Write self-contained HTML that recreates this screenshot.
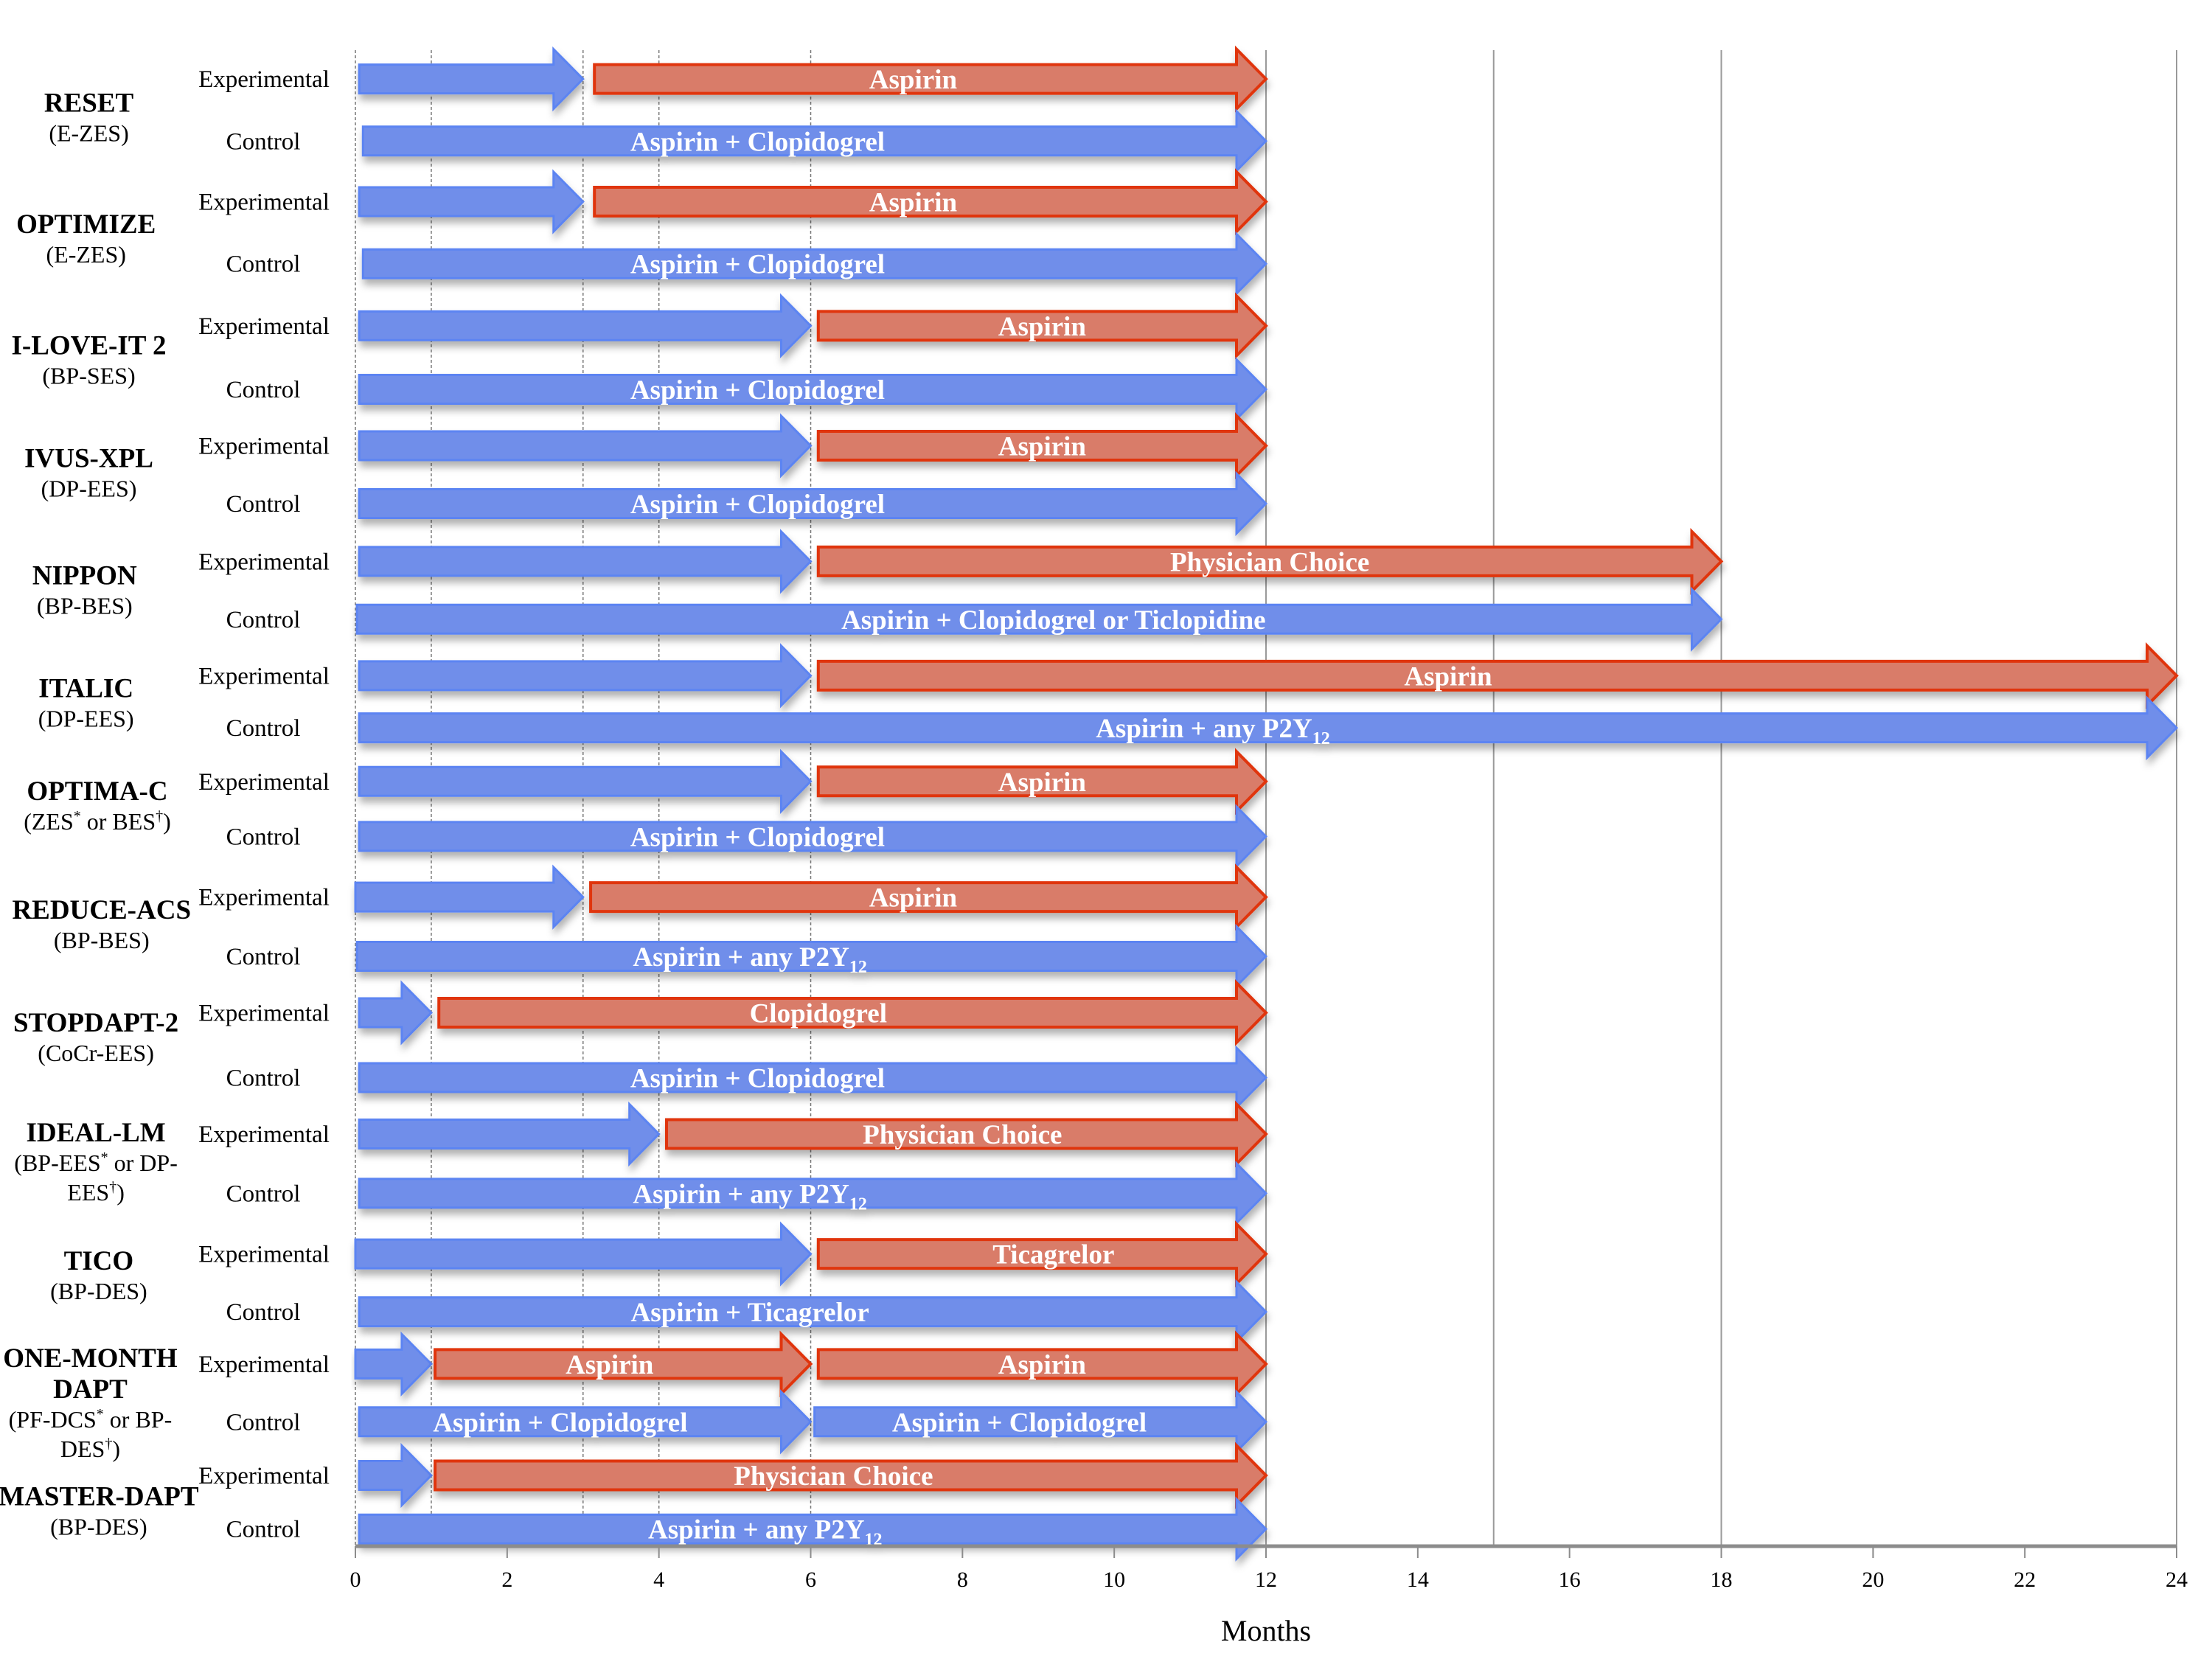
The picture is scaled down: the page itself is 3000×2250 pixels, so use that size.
<!DOCTYPE html>
<html><head><meta charset="utf-8">
<style>
html,body{margin:0;padding:0;background:#fff;}
svg{display:block;}
text{font-family:"Liberation Serif",serif;}
</style></head>
<body>
<svg id="chart" width="3000" height="2250" viewBox="0 0 3000 2250" xmlns="http://www.w3.org/2000/svg">
<defs>
<filter id="sh" x="-5%" y="-30%" width="110%" height="170%">
<feDropShadow dx="2" dy="8" stdDeviation="5" flood-color="#000" flood-opacity="0.3"/>
</filter>
</defs>
<g id="grid"></g>
<g id="labels"></g>
<g id="bars"></g>
<g id="axis"></g>
</svg>
<script>
const trials = ["RESET","OPTIMIZE","I-LOVE-IT 2","IVUS-XPL","NIPPON","ITALIC","OPTIMA-C","REDUCE-ACS","STOPDAPT-2","IDEAL-LM","TICO","ONE-MONTH DAPT","MASTER-DAPT"];
const subtitles = [["(E-ZES)"],["(E-ZES)"],["(BP-SES)"],["(DP-EES)"],["(BP-BES)"],["(DP-EES)"],["(ZES^* or BES^†)"],["(BP-BES)"],["(CoCr-EES)"],["(BP-EES^* or DP-","EES^†)"],["(BP-DES)"],["(PF-DCS^* or BP-","DES^†)"],["(BP-DES)"]];
// experimental arm segments: [start month, end month, color, label, label centre month]
const expArms = [
 [[0.05,3,"b","",0],[3.15,12,"r","Aspirin",7.35]],
 [[0.05,3,"b","",0],[3.15,12,"r","Aspirin",7.35]],
 [[0.05,6,"b","",0],[6.1,12,"r","Aspirin",9.05]],
 [[0.05,6,"b","",0],[6.1,12,"r","Aspirin",9.05]],
 [[0.05,6,"b","",0],[6.1,18,"r","Physician Choice",12.05]],
 [[0.05,6,"b","",0],[6.1,24,"r","Aspirin",14.4]],
 [[0.05,6,"b","",0],[6.1,12,"r","Aspirin",9.05]],
 [[0,3,"b","",0],[3.1,12,"r","Aspirin",7.35]],
 [[0.05,1,"b","",0],[1.1,12,"r","Clopidogrel",6.1]],
 [[0.05,4,"b","",0],[4.1,12,"r","Physician Choice",8.0]],
 [[0,6,"b","",0],[6.1,12,"r","Ticagrelor",9.2]],
 [[0,1,"b","",0],[1.05,6,"r","Aspirin",3.35],[6.1,12,"r","Aspirin",9.05]],
 [[0.05,1,"b","",0],[1.05,12,"r","Physician Choice",6.3]]
];
const ctrlArms = [
 [[0.1,12,"b","Aspirin + Clopidogrel",5.3]],
 [[0.1,12,"b","Aspirin + Clopidogrel",5.3]],
 [[0.05,12,"b","Aspirin + Clopidogrel",5.3]],
 [[0.05,12,"b","Aspirin + Clopidogrel",5.3]],
 [[0.02,18,"b","Aspirin + Clopidogrel or Ticlopidine",9.2]],
 [[0.05,24,"b","Aspirin + any P2Y|12",11.3]],
 [[0.05,12,"b","Aspirin + Clopidogrel",5.3]],
 [[0.02,12,"b","Aspirin + any P2Y|12",5.2]],
 [[0.05,12,"b","Aspirin + Clopidogrel",5.3]],
 [[0.05,12,"b","Aspirin + any P2Y|12",5.2]],
 [[0.05,12,"b","Aspirin + Ticagrelor",5.2]],
 [[0.05,6,"b","Aspirin + Clopidogrel",2.7],[6.05,12,"b","Aspirin + Clopidogrel",8.75]],
 [[0.05,12,"b","Aspirin + any P2Y|12",5.4]]
];
const ticks = [0,2,4,6,8,10,12,14,16,18,20,22,24];
const gridMonths = [0,1,3,4,6,12,15,18,24];
// layout (display coords scaled)
const S = 1.913;
const expY = [56,143,231,316,398,479,554,636,718,804,889,967,1046].map(v=>v*S);
const ctrlY = [100,187,276,357,439,516,593,678,764,846,930,1008,1084].map(v=>v*S);
const nameY = [73,159,245,325,408,488,561,645,725,803,894,963,1061].map(v=>v*S);
const nameX = [63,61,63,63,60,61,69,72,68,68,70,64,70].map(v=>v*S);

const X0 = 482, X1 = 2952;
const x = m => X0 + (X1 - X0) * m / 24;
const NS = "http://www.w3.org/2000/svg";
function mk(tag, attrs, parent){const e=document.createElementNS(NS,tag);for(const k in attrs)e.setAttribute(k,attrs[k]);parent.appendChild(e);return e;}
const grid=document.getElementById('grid'), labels=document.getElementById('labels'), bars=document.getElementById('bars'), axis=document.getElementById('axis');
const AXY = 2097;
gridMonths.forEach(m=>{
  const l=mk('line',{x1:x(m),x2:x(m),y1:68,y2:AXY,stroke:m>6?'#9a9a9a':'#777','stroke-width':m>6?2:1.5,'stroke-dasharray':m>6?'none':'4 3'},grid);
  
  
});
function arrow(s,e,cy,col,label,lc,name){
  const g=mk('g',{filter:'url(#sh)'},bars);
  
  
  const xs=x(s), xe=x(e), hl=40, bh=19.5, hh=40.5;
  const fill=col==='b'?'#6f8eea':'#d97c69', stroke=col==='b'?'#5b84f2':'#e0340f';
  const p=`M${xs},${cy-bh} L${xe-hl},${cy-bh} L${xe-hl},${cy-hh} L${xe},${cy} L${xe-hl},${cy+hh} L${xe-hl},${cy+bh} L${xs},${cy+bh} Z`;
  mk('path',{d:p,fill:fill,stroke:stroke,'stroke-width':col==='b'?3:4,'stroke-linejoin':'miter'},g);
  if(label){
    const parts=label.split('|');
    const t=mk('text',{x:x(lc),y:cy+13,'text-anchor':'middle','font-size':37,'font-weight':'bold',fill:'#fff'},g);
    
    
    t.appendChild(document.createTextNode(parts[0]));
    if(parts[1]){const ts=mk('tspan',{'font-size':24,dy:9},t);ts.textContent=parts[1];}
  }
}
function supText(t,str){
  const parts=str.split('^');
  t.appendChild(document.createTextNode(parts[0]));
  for(let i=1;i<parts.length;i++){
    const sym=parts[i][0], rest=parts[i].slice(1);
    const ts=mk('tspan',{'font-size':20,dy:-12},t);ts.textContent=sym;
    const tr=mk('tspan',{dy:12},t);tr.textContent=rest;
  }
}
trials.forEach((tr,i)=>{
  const slug=tr.toLowerCase().replace(/[^a-z0-9]+/g,'-');
  const lines=tr==='ONE-MONTH DAPT'?['ONE-MONTH','DAPT']:[tr];
  const sub=subtitles[i];
  const y0=nameY[i]+12, cx=nameX[i];
  lines.forEach((ln,k)=>{const t=mk('text',{x:cx,y:y0+k*42,'text-anchor':'middle','font-size':37,'font-weight':'bold',fill:'#000'},labels);t.textContent=ln;
    });
  sub.forEach((ln,k)=>{const t=mk('text',{x:cx,y:y0+lines.length*42+k*40-2,'text-anchor':'middle','font-size':32,fill:'#000'},labels);supText(t,ln);
    });
  const te=mk('text',{x:358,y:expY[i]+11,'text-anchor':'middle','font-size':33,fill:'#000'},labels);te.textContent='Experimental';
  
  const tc=mk('text',{x:357,y:ctrlY[i]+11,'text-anchor':'middle','font-size':33,fill:'#000'},labels);tc.textContent='Control';
  
  expArms[i].forEach((sg,k)=>arrow(sg[0],sg[1],expY[i],sg[2],sg[3],sg[4],'exp-arrow-'+slug+'-'+k));
  ctrlArms[i].forEach((sg,k)=>arrow(sg[0],sg[1],ctrlY[i],sg[2],sg[3],sg[4],'ctrl-arrow-'+slug+'-'+k));
});
const al=mk('line',{x1:X0,x2:X1,y1:AXY,y2:AXY,stroke:'#8c8c8c','stroke-width':5},axis);

ticks.forEach(m=>{
  const tk=mk('line',{x1:x(m),x2:x(m),y1:AXY,y2:AXY+16,stroke:'#8c8c8c','stroke-width':2},axis);
  
  const t=mk('text',{x:x(m),y:AXY+55,'text-anchor':'middle','font-size':30,fill:'#000'},axis);t.textContent=m;
  
});
const xt=mk('text',{x:x(12),y:2225,'text-anchor':'middle','font-size':40,fill:'#000'},axis);xt.textContent='Months';

</script>
</body></html>
